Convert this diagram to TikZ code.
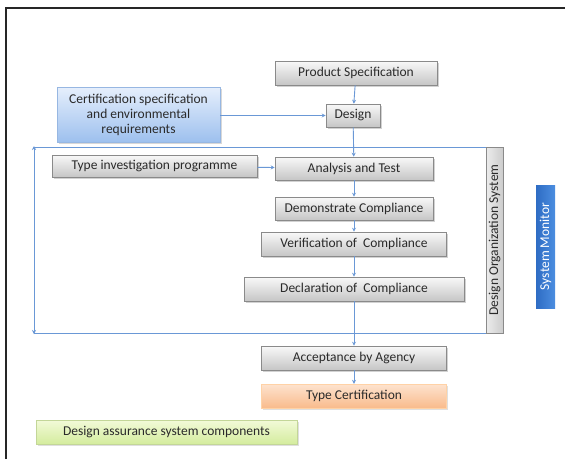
\documentclass[tikz,border=0pt]{standalone}
\usepackage{fontspec}
\setmainfont{Carlito}
\usetikzlibrary{shadows,arrows.meta}
\definecolor{txt}{HTML}{2A2A2A}
\definecolor{bline}{HTML}{6A98D6}
\definecolor{gborder}{HTML}{8A8A8A}
\definecolor{certT}{HTML}{E6EFFC}
\definecolor{certB}{HTML}{9DC0EE}
\definecolor{orT}{HTML}{FDE3CF}
\definecolor{orB}{HTML}{F9BB8C}
\definecolor{grT}{HTML}{F2FAD8}
\definecolor{grB}{HTML}{D4EC9E}
\definecolor{smL}{HTML}{2E6CC4}
\definecolor{smR}{HTML}{4C8EE0}
\begin{document}
\begin{tikzpicture}[x=1pt,y=-1pt,
  every node/.style={font=\fontsize{13.5}{15}\selectfont, text=txt, inner sep=1pt},
  gbox/.style={draw=gborder, line width=0.6pt, top color=white!95!gray, bottom color=gray!45,
    drop shadow={shadow xshift=1.5pt, shadow yshift=-1.5pt, opacity=0.35}},
  flow/.style={draw=bline, line width=0.9pt, -{Stealth[length=4pt,width=4pt]}},
  loopline/.style={draw=bline, line width=0.9pt}
]
\useasboundingbox (0,0) rectangle (565,459);
\fill[white] (0,0) rectangle (565,459);
% frame
\draw[line width=1.4pt, black!85] (6,459) -- (6,8) -- (565,8);

% loop rectangle corners
\coordinate (tl) at (34,147);
\coordinate (bl) at (34,333);
\coordinate (tr) at (486,147);
\coordinate (br) at (486,333);
\draw[loopline] (tl) -- (tr);
\draw[loopline] (bl) -- (br);
\draw[draw=bline, line width=0.9pt, {Stealth[length=4pt,width=4pt]}-{Stealth[length=4pt,width=4pt]}] ([yshift=1pt]tl) -- ([yshift=-1pt]bl);

% nodes
\node[gbox, minimum width=162pt, minimum height=24pt] (ps) at (356,73) {Product Specification};
\node[draw=bline!70, line width=0.6pt, top color=certT, bottom color=certB, align=center,
  minimum width=163pt, minimum height=55pt,
  drop shadow={shadow xshift=1.5pt, shadow yshift=-1.5pt, opacity=0.3}] (cs) at (138.5,114.5)
  {Certification specification\\and environmental\\requirements};
\node[gbox, minimum width=54pt, minimum height=23pt] (de) at (353,115.5) {Design};
\node[gbox, minimum width=205pt, minimum height=22pt] (ti) at (154.5,166) {Type investigation programme};
\node[gbox, minimum width=158pt, minimum height=23pt] (at) at (354,168.5) {Analysis and Test};
\node[gbox, minimum width=158pt, minimum height=23pt] (dc) at (354,208.5) {Demonstrate Compliance};
\node[gbox, minimum width=185pt, minimum height=24pt] (vc) at (354,244) {Verification of\ \ Compliance};
\node[gbox, minimum width=220pt, minimum height=24pt] (dl) at (354,289) {Declaration of\ \ Compliance};
\node[gbox, minimum width=185pt, minimum height=24pt] (aa) at (354,358) {Acceptance by Agency};
\node[draw=orange!35, line width=0.4pt, top color=orT, bottom color=orB,
  minimum width=185pt, minimum height=24pt,
  drop shadow={shadow xshift=1.5pt, shadow yshift=-1.5pt, opacity=0.25}] (tc) at (354,396) {Type Certification};
\node[draw=grB!80!gray, line width=0.4pt, top color=grT, bottom color=grB,
  minimum width=261pt, minimum height=24pt,
  drop shadow={shadow xshift=1.5pt, shadow yshift=-1.5pt, opacity=0.25}] (da) at (166.5,432) {Design assurance system components};
\node[draw=gborder, line width=0.6pt, left color=gray!15, right color=gray!40,
  minimum width=186pt, minimum height=17pt, rotate=90] (dos) at (494.5,240) {Design Organization System};
\node[left color=smL, right color=smR,
  text=white, minimum width=123pt, minimum height=19pt, rotate=90] (sm) at (545.5,246.5) {System Monitor};

% connectors
\draw[flow] (ps) -- (de);
\draw[flow] (cs.east |- de.west) -- (de.west);
\draw[flow] (de) -- (at);
\draw[flow] (ti) -- (at);
\draw[flow] (at) -- (dc);
\draw[flow] (dc) -- (vc);
\draw[flow] (vc) -- (dl);
\draw[flow] (dl) -- (aa);
\draw[flow] (aa) -- (tc);
\end{tikzpicture}
\end{document}
